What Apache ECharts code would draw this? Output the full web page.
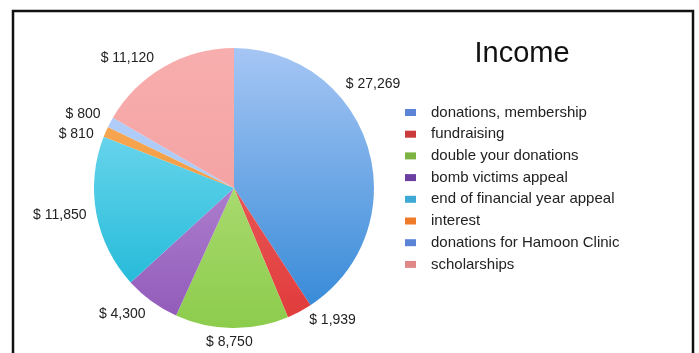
<!DOCTYPE html>
<html>
<head>
<meta charset="utf-8">
<script src="https://cdn.jsdelivr.net/npm/echarts@6/dist/echarts.min.js"></script>
<style>
  html, body { margin: 0; padding: 0; background: #fff; }
  #chart { width: 699px; height: 353px; }
</style>
</head>
<body>
<div id="chart"></div>
<script>
// 数据
const categories = [
  'donations, membership',
  'fundraising',
  'double your donations',
  'bomb victims appeal',
  'end of financial year appeal',
  'interest',
  'donations for Hamoon Clinic',
  'scholarships'
]
const amounts = [27269, 1939, 8750, 4300, 11850, 810, 800, 11120]

// 扇区渐变色 (上浅下深) 和图例色块
const sliceTop = ['#a6c6f4', '#f07070', '#c4e890', '#c8a4e4', '#8ee2f6', '#f8b060', '#b4d0fa', '#f8aeae']
const sliceBottom = ['#2f86d6', '#e03a3a', '#8ccc4c', '#9058b8', '#12b4d4', '#f08a28', '#a4c4f4', '#f09898']
const legendColors = ['#5b84d6', '#cc3b3b', '#7cb342', '#6a3fa0', '#3fa9d6', '#ee7a2a', '#5b84d6', '#e08888']

const cx = 234
const cy = 188
const r = 140

function fmt (v) {
  return '$ ' + v.toLocaleString('en-US')
}

const chart = echarts.init(document.getElementById('chart'))

const pieData = categories.map((name, i) => ({
  name: name,
  value: amounts[i],
  itemStyle: {
    color: new echarts.graphic.LinearGradient(0, cy - r, 0, cy + r, [
      { offset: 0, color: sliceTop[i] },
      { offset: 1, color: sliceBottom[i] }
    ], true)
  }
}))

// 个别标签微调
function labelNudge (p) {
  if (p.dataIndex === 0) return { dx: -37, dy: -61 }
  if (p.dataIndex === 2) return { dx: 26, dy: 4 }
  if (p.dataIndex === 3) return { dy: 5 }
  if (p.dataIndex === 6) return { dy: -4 }
  return {}
}

const option = {
  animation: false,
  title: {
    text: 'Income',
    left: 517,
    top: 34,
    textAlign: 'center',
    textStyle: {
      fontFamily: 'Liberation Sans, Arial, sans-serif',
      fontSize: 29,
      fontWeight: 'normal',
      color: '#111'
    }
  },
  legend: {
    orient: 'vertical',
    left: 400,
    top: 100,
    itemWidth: 11,
    itemHeight: 7,
    itemGap: 6.7,
    icon: 'rect',
    data: categories.map((name, i) => ({
      name: name,
      itemStyle: { color: legendColors[i] }
    })),
    textStyle: {
      fontFamily: 'Liberation Sans, Arial, sans-serif',
      fontSize: 15,
      color: '#222',
      padding: [0, 0, 0, 10]
    }
  },
  graphic: [{
    type: 'rect',
    shape: { x: 13, y: 11, width: 680, height: 360 },
    style: { fill: 'none', stroke: '#111', lineWidth: 2.5 },
    silent: true
  }],
  series: [{
    type: 'pie',
    center: [cx, cy],
    radius: [0, r],
    startAngle: 90,
    clockwise: true,
    data: pieData,
    itemStyle: { borderWidth: 0 },
    label: {
      show: true,
      position: 'outside',
      formatter: p => fmt(p.value),
      fontFamily: 'Liberation Sans, Arial, sans-serif',
      fontSize: 14,
      color: '#222'
    },
    labelLine: { show: false, length: 10, length2: 0 },
    labelLayout: labelNudge,
    emphasis: { disabled: true }
  }]
}

chart.setOption(option)
</script>
</body>
</html>
